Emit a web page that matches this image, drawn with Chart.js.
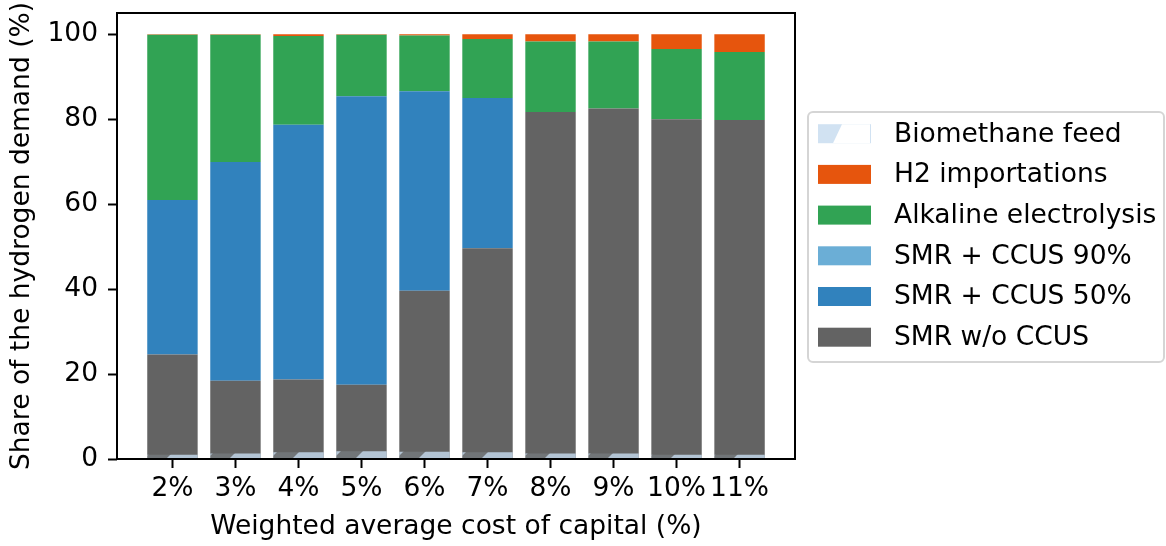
<!DOCTYPE html>
<html><head><meta charset="utf-8">
<script src="https://cdn.jsdelivr.net/npm/chart.js@4.4.1/dist/chart.umd.min.js"></script>
<style>html,body{margin:0;padding:0;background:#fff;overflow:hidden}</style>
</head><body>
<canvas id="c" width="1166" height="546" style="width:1166px;height:546px"></canvas>
<script>
// ---- data ----
const categories = ['2%','3%','4%','5%','6%','7%','8%','9%','10%','11%'];
const biomethaneFeed = [1.0, 1.3, 1.6, 1.8, 1.7, 1.6, 1.3, 1.3, 1.0, 1.0];
const smrWoCcus      = [24.6, 18.4, 18.7, 17.5, 39.6, 49.6, 81.7, 82.5, 80.0, 79.8];
const smrCcus50      = [36.4, 51.5, 60.0, 67.9, 47.0, 35.4, 0, 0, 0, 0];
const smrCcus90      = [0, 0, 0, 0, 0, 0, 0, 0, 0, 0];
const alkaline       = [38.9, 30.0, 20.9, 14.5, 13.1, 13.9, 16.6, 15.8, 16.5, 16.0];
const h2Imports      = [0.1, 0.1, 0.4, 0.1, 0.3, 1.1, 1.7, 1.7, 3.5, 4.2];
const yTicks = [0, 20, 40, 60, 80, 100];
const xTitle = 'Weighted average cost of capital (%)';
const yTitle = 'Share of the hydrogen demand (%)';

const FONT = "'DejaVu Sans', sans-serif";
const FS = 26.5;
const BIO_RGBA = 'rgba(198,219,239,0.81)';

function bioPattern(ctx) {
  const P = 63;
  const c = document.createElement('canvas'); c.width = P; c.height = P;
  const g = c.getContext('2d');
  g.fillStyle = BIO_RGBA; g.fillRect(0, 0, P, P);
  g.globalCompositeOperation = 'destination-out';
  for (const s of [36, 36 + P]) {
    g.beginPath(); g.moveTo(s, 0); g.lineTo(s + 22, 0); g.lineTo(0, s + 22); g.lineTo(0, s); g.closePath(); g.fill();
  }
  return ctx.createPattern(c, 'repeat');
}

const canvas = document.getElementById('c');
const ctx = canvas.getContext('2d');
const pts = arr => arr.map((v, i) => ({x: i, y: v}));

const datasets = [
  {label: 'Biomethane feed', data: pts(biomethaneFeed), backgroundColor: bioPattern(ctx), stack: 'bio', legendKind: 'hatch'},
  {label: 'SMR w/o CCUS', data: pts(smrWoCcus), backgroundColor: '#636363', stack: 'main'},
  {label: 'SMR + CCUS 50%', data: pts(smrCcus50), backgroundColor: '#3182bd', stack: 'main'},
  {label: 'SMR + CCUS 90%', data: pts(smrCcus90), backgroundColor: '#6baed6', stack: 'main'},
  {label: 'Alkaline electrolysis', data: pts(alkaline), backgroundColor: '#31a354', stack: 'main'},
  {label: 'H2 importations', data: pts(h2Imports), backgroundColor: '#e6550d', stack: 'main'},
];
const legendOrder = ['Biomethane feed','H2 importations','Alkaline electrolysis','SMR + CCUS 90%','SMR + CCUS 50%','SMR w/o CCUS'];

const frameAndLegend = {
  id: 'frameAndLegend',
  afterDraw(chart) {
    const c = chart.ctx, a = chart.chartArea;
    c.save();
    c.strokeStyle = '#000'; c.lineWidth = 2;
    c.strokeRect(a.left, a.top, a.right - a.left, a.bottom - a.top);
    // legend box
    const bx = 808, by = 112, bw = 356, bh = 250, r = 5;
    c.beginPath();
    c.moveTo(bx + r, by); c.lineTo(bx + bw - r, by); c.arcTo(bx + bw, by, bx + bw, by + r, r);
    c.lineTo(bx + bw, by + bh - r); c.arcTo(bx + bw, by + bh, bx + bw - r, by + bh, r);
    c.lineTo(bx + r, by + bh); c.arcTo(bx, by + bh, bx, by + bh - r, r);
    c.lineTo(bx, by + r); c.arcTo(bx, by, bx + r, by, r); c.closePath();
    c.fillStyle = 'rgba(255,255,255,0.8)'; c.fill();
    c.strokeStyle = '#d5d5d5'; c.lineWidth = 2; c.stroke();
    const px = 818, pw = 53, ph = 19, tx = 894, y0 = 133.7, dy = 40.7;
    c.font = FS + 'px ' + FONT; c.textBaseline = 'middle'; c.textAlign = 'left';
    legendOrder.forEach((lab, i) => {
      const ds = chart.data.datasets.find(d => d.label === lab);
      const cy = y0 + dy * i;
      if (ds.legendKind === 'hatch') {
        c.fillStyle = BIO_RGBA; c.fillRect(px, cy - ph / 2, pw, ph);
        c.fillStyle = '#fff';
        c.beginPath();
        c.moveTo(px + 15, cy + ph / 2); c.lineTo(px + pw - 1, cy + ph / 2);
        c.lineTo(px + pw - 1, cy - ph / 2); c.lineTo(px + 24, cy - ph / 2); c.closePath(); c.fill();
      } else {
        c.fillStyle = ds.backgroundColor; c.fillRect(px, cy - ph / 2, pw, ph);
      }
      c.fillStyle = '#000';
      c.fillText(lab, tx, cy + 1);
    });
    c.restore();
  }
};

new Chart(ctx, {
  type: 'bar',
  data: {datasets},
  options: {
    responsive: false, animation: false, devicePixelRatio: 1,
    layout: {padding: {left: 0, top: 13, right: 371, bottom: 0}},
    plugins: {legend: {display: false}, tooltip: {enabled: false}},
    datasets: {bar: {grouped: false, barPercentage: 0.8, categoryPercentage: 1.0, borderWidth: 0}},
    scales: {
      x: {
        type: 'linear', stacked: true, min: -0.88, max: 9.88, offset: false,
        afterBuildTicks: s => { s.ticks = categories.map((c, i) => ({value: i})); },
        afterFit: s => { s.height = 87; s.paddingLeft = 0; s.paddingRight = 0; },
        ticks: {callback: v => categories[v], color: '#000', font: {family: FONT, size: FS}, padding: 5, maxRotation: 0, autoSkip: false},
        grid: {offset: false, drawOnChartArea: false, drawTicks: true, tickLength: 9, tickWidth: 2, tickColor: '#000'},
        border: {display: false},
        title: {display: true, text: xTitle, color: '#000', font: {family: FONT, size: FS}, padding: {top: 0, bottom: 3}}
      },
      y: {
        type: 'linear', stacked: true, min: 0, max: 105,
        afterBuildTicks: s => { s.ticks = yTicks.map(v => ({value: v})); },
        afterFit: s => { s.width = 117; s.paddingTop = 0; s.paddingBottom = 0; },
        ticks: {color: '#000', font: {family: FONT, size: FS}, padding: 10},
        grid: {drawOnChartArea: false, drawTicks: true, tickLength: 9, tickWidth: 2, tickColor: '#000'},
        border: {display: false},
        title: {display: true, text: yTitle, color: '#000', font: {family: FONT, size: FS}, padding: {top: 6, bottom: 0}}
      }
    }
  },
  plugins: [frameAndLegend]
});
</script>
</body></html>
